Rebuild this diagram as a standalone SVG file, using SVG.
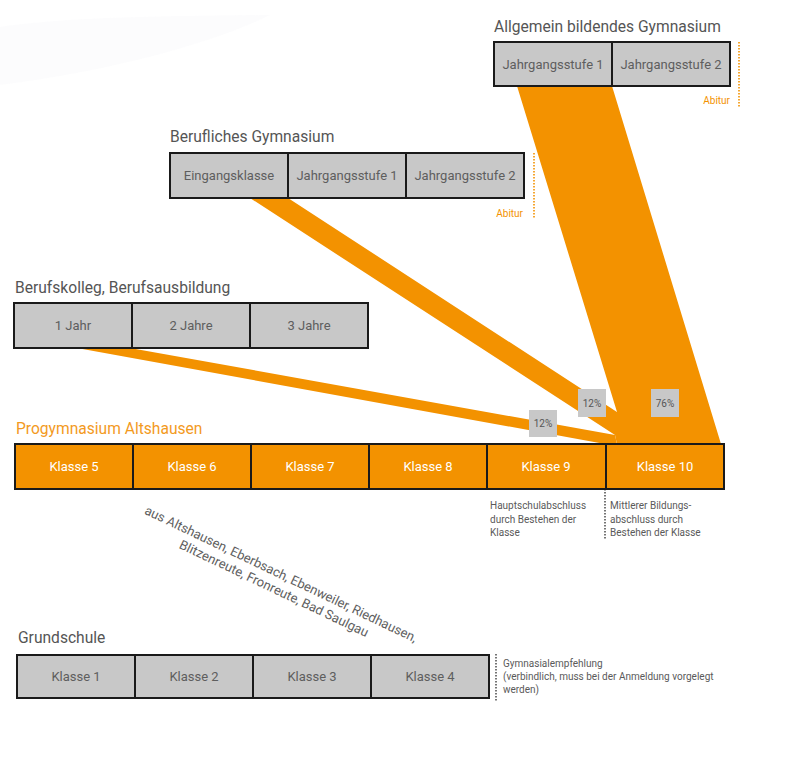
<svg xmlns="http://www.w3.org/2000/svg" width="800" height="763" viewBox="0 0 800 763">
<style>
text{font-family:Roboto,"Liberation Sans",sans-serif}
.title{font-size:15.6px;fill:#555555}
.box{fill:#c8c8c8;stroke:#1a1a1a;stroke-width:2}
.obox{fill:#f39200;stroke:#1a1a1a;stroke-width:2}
.bt{font-size:13px;fill:#5e5e5e;text-anchor:middle}
.ot{font-size:13px;fill:#ffffff;text-anchor:middle}
.flow{fill:#f39200}
.pct{fill:#c8c8c8}
.pt{font-size:10px;fill:#555;text-anchor:middle}
.abi{font-size:10px;fill:#f39200;text-anchor:end}
.note{font-size:10px;fill:#5a5a5a}
.odot{stroke:#f39200;stroke-width:1.6;stroke-dasharray:1.5 1.5;fill:none}
.kdot{stroke:#1a1a1a;stroke-width:1.2;stroke-dasharray:1.5 1.5;fill:none}
</style>
<rect width="800" height="763" fill="#ffffff"/>
<path d="M0 27 C60 18 150 16 270 15 C220 40 120 70 0 85 Z" fill="#f4f6f8" opacity="0.3"/>

<g id="connectors">
<polygon class="flow" points="517,86 612,86 721,444 617,444 617,412"/>
<polygon class="flow" points="250,198 288,198 617,412 617,444 615,435"/>
<polygon class="flow" points="77,348 130,348 615,435 617,444 605,444"/>
</g>

<g id="gymnasium">
<text class="title" x="494" y="32">Allgemein bildendes Gymnasium</text>
<rect class="box" x="494" y="42" width="118" height="44"/>
<rect class="box" x="612" y="42" width="118" height="44"/>
<text class="bt" x="553" y="68.5">Jahrgangsstufe 1</text>
<text class="bt" x="671" y="68.5">Jahrgangsstufe 2</text>
<line class="odot" x1="739" y1="42" x2="739" y2="107"/>
<text class="abi" x="730" y="104">Abitur</text>
</g>

<g id="berufliches-gymnasium">
<text class="title" x="170" y="142">Berufliches Gymnasium</text>
<rect class="box" x="170" y="153" width="118" height="45"/>
<rect class="box" x="288" y="153" width="118" height="45"/>
<rect class="box" x="406" y="153" width="118" height="45"/>
<text class="bt" x="229" y="180">Eingangsklasse</text>
<text class="bt" x="347" y="180">Jahrgangsstufe 1</text>
<text class="bt" x="465" y="180">Jahrgangsstufe 2</text>
<line class="odot" x1="534" y1="153" x2="534" y2="218"/>
<text class="abi" x="523" y="217">Abitur</text>
</g>

<g id="berufskolleg">
<text class="title" x="15" y="293">Berufskolleg, Berufsausbildung</text>
<rect class="box" x="14" y="303" width="118" height="45"/>
<rect class="box" x="132" y="303" width="118" height="45"/>
<rect class="box" x="250" y="303" width="118" height="45"/>
<text class="bt" x="73" y="330">1 Jahr</text>
<text class="bt" x="191" y="330">2 Jahre</text>
<text class="bt" x="309" y="330">3 Jahre</text>
</g>

<g id="percentages">
<rect class="pct" x="578" y="389" width="28" height="28"/>
<text class="pt" x="592" y="406.5">12%</text>
<rect class="pct" x="651" y="389" width="28" height="28"/>
<text class="pt" x="665" y="406.5">76%</text>
<rect class="pct" x="529" y="410" width="28" height="27"/>
<text class="pt" x="543" y="427">12%</text>
</g>

<g id="progymnasium">
<text class="title" x="16" y="434" style="fill:#f39a1e">Progymnasium Altshausen</text>
<rect class="obox" x="15" y="444" width="118" height="45"/>
<rect class="obox" x="133" y="444" width="118" height="45"/>
<rect class="obox" x="251" y="444" width="118" height="45"/>
<rect class="obox" x="369" y="444" width="118" height="45"/>
<rect class="obox" x="487" y="444" width="119" height="45"/>
<rect class="obox" x="606" y="444" width="118" height="45"/>
<text class="ot" x="74" y="471">Klasse 5</text>
<text class="ot" x="192" y="471">Klasse 6</text>
<text class="ot" x="310" y="471">Klasse 7</text>
<text class="ot" x="428" y="471">Klasse 8</text>
<text class="ot" x="546" y="471">Klasse 9</text>
<text class="ot" x="665" y="471">Klasse 10</text>
<text class="note" x="490" y="509">Hauptschulabschluss</text>
<text class="note" x="490" y="523">durch Bestehen der</text>
<text class="note" x="490" y="536">Klasse</text>
<line class="kdot" x1="605" y1="489" x2="605" y2="539"/>
<text class="note" x="610" y="509">Mittlerer Bildungs-</text>
<text class="note" x="610" y="523">abschluss durch</text>
<text class="note" x="610" y="536">Bestehen der Klasse</text>
</g>

<g id="herkunft" transform="translate(279,578) rotate(25.5)">
<text class="bt" x="0" y="0">aus Altshausen, Eberbsach, Ebenweiler, Riedhausen,</text>
<text class="bt" x="0" y="16">Blitzenreute, Fronreute, Bad Saulgau</text>
</g>

<g id="grundschule">
<text class="title" x="18" y="643">Grundschule</text>
<rect class="box" x="17" y="655" width="118" height="43"/>
<rect class="box" x="135" y="655" width="118" height="43"/>
<rect class="box" x="253" y="655" width="118" height="43"/>
<rect class="box" x="371" y="655" width="118" height="43"/>
<text class="bt" x="76" y="681">Klasse 1</text>
<text class="bt" x="194" y="681">Klasse 2</text>
<text class="bt" x="312" y="681">Klasse 3</text>
<text class="bt" x="430" y="681">Klasse 4</text>
<line class="kdot" x1="496" y1="654" x2="496" y2="701"/>
<text class="note" x="503" y="667">Gymnasialempfehlung</text>
<text class="note" x="503" y="680">(verbindlich, muss bei der Anmeldung vorgelegt</text>
<text class="note" x="503" y="693">werden)</text>
</g>
</svg>
